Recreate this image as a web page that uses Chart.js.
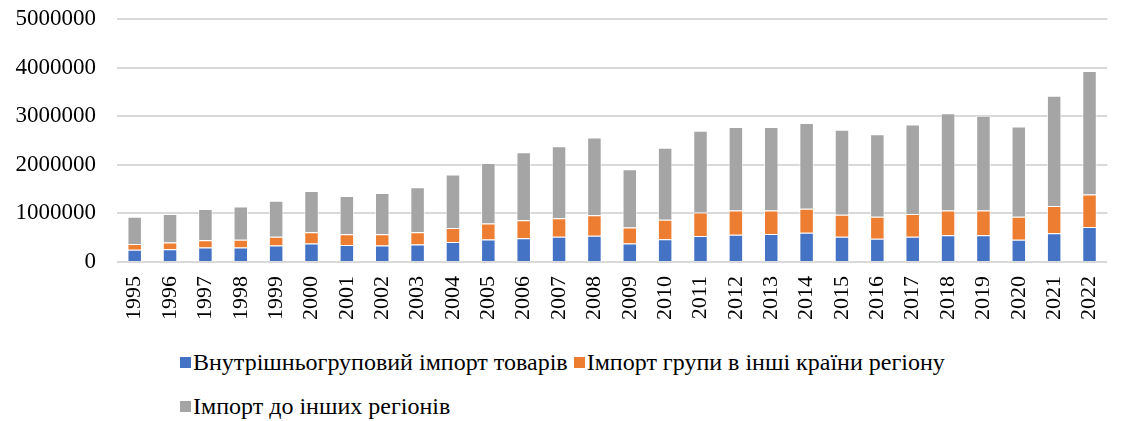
<!DOCTYPE html>
<html>
<head>
<meta charset="utf-8">
<script src="https://cdn.jsdelivr.net/npm/chart.js@4"></script>
<style>
  body { margin: 0; background: #fff; }
  #wrap { position: relative; width: 1122px; height: 421px; }
  #chart { position: absolute; left: 0; top: 0; }
  #legend {
    position: absolute; left: 180px; top: 348px; width: 800px;
    font-family: "Liberation Serif", "Times New Roman", serif;
    font-size: 24px; color: #000;
    display: flex; flex-wrap: wrap; row-gap: 16px;
  }
  .item { display: flex; align-items: center; margin-right: 6px; line-height: 28px; }
  .box { width: 11px; height: 11px; margin-right: 2px; }
</style>
</head>
<body>
<div id="wrap">
  <canvas id="chart" width="1122" height="340"></canvas>
  <div id="legend"></div>
</div>
<script>
// Data
const years = ["1995","1996","1997","1998","1999","2000","2001","2002","2003","2004",
  "2005","2006","2007","2008","2009","2010","2011","2012","2013","2014",
  "2015","2016","2017","2018","2019","2020","2021","2022"];

const seriesNames = [
  "Внутрішньогруповий імпорт товарів",
  "Імпорт групи в інші країни регіону",
  "Імпорт до інших регіонів"
];

const intraGroup = [250000, 260000, 300000, 300000, 340000, 380000, 350000, 340000, 360000, 410000,
  465000, 490000, 520000, 540000, 380000, 470000, 535000, 560000, 575000, 600000,
  520000, 480000, 520000, 550000, 550000, 460000, 590000, 720000];

const otherCountries = [120000, 140000, 150000, 160000, 180000, 230000, 220000, 230000, 250000, 290000,
  325000, 370000, 380000, 420000, 330000, 400000, 485000, 500000, 485000, 495000,
  450000, 450000, 470000, 510000, 510000, 470000, 560000, 670000];

const otherRegions = [560000, 590000, 640000, 680000, 740000, 850000, 790000, 850000, 930000, 1100000,
  1245000, 1400000, 1480000, 1600000, 1200000, 1480000, 1680000, 1720000, 1720000, 1765000,
  1750000, 1700000, 1840000, 2000000, 1950000, 1860000, 2270000, 2540000];

const yTicks = [0, 1000000, 2000000, 3000000, 4000000, 5000000];

const colors = ["#4472C4", "#ED7D31", "#A5A5A5"];
const allSeries = [intraGroup, otherCountries, otherRegions];

const font = "'Liberation Serif', 'Times New Roman', serif";

const ctx = document.getElementById("chart").getContext("2d");
const chart = new Chart(ctx, {
  type: "bar",
  data: {
    labels: years,
    datasets: allSeries.map((vals, i) => ({
      label: seriesNames[i],
      data: vals,
      backgroundColor: colors[i],
      borderColor: "rgba(255,255,255,0.7)",
      borderWidth: 1,
      categoryPercentage: 1,
      barPercentage: 0.41
    }))
  },
  options: {
    responsive: false,
    animation: false,
    layout: { padding: { top: 19, right: 4, left: 0, bottom: 0 } },
    plugins: {
      legend: { display: false },
      tooltip: { enabled: false }
    },
    scales: {
      x: {
        stacked: true,
        grid: { display: false },
        border: { display: false },
        ticks: {
          color: "#000",
          font: { family: font, size: 22 },
          minRotation: 90,
          maxRotation: 90,
          padding: 6,
          autoSkip: false
        },
        afterFit: s => { s.height = 78; }
      },
      y: {
        stacked: true,
        min: 0,
        max: 5000000,
        afterBuildTicks: s => { s.ticks = yTicks.map(v => ({ value: v })); },
        // transparent tick marks give the gap between labels and grid
        grid: { color: "#d9d9d9", lineWidth: 2, drawTicks: true, tickLength: 21, tickColor: "rgba(0,0,0,0)" },
        border: { display: false },
        ticks: {
          color: "#000",
          font: { family: font, size: 23 },
          padding: 0,
          callback: v => String(v)
        },
        afterFit: s => { s.width = 117; }
      }
    }
  }
});

// Legend
const legend = document.getElementById("legend");
seriesNames.forEach((name, i) => {
  const item = document.createElement("div");
  item.className = "item";
  item.innerHTML = `<span class="box" style="background:${colors[i]}"></span><span>${name}</span>`;
  legend.appendChild(item);
});
</script>
</body>
</html>
